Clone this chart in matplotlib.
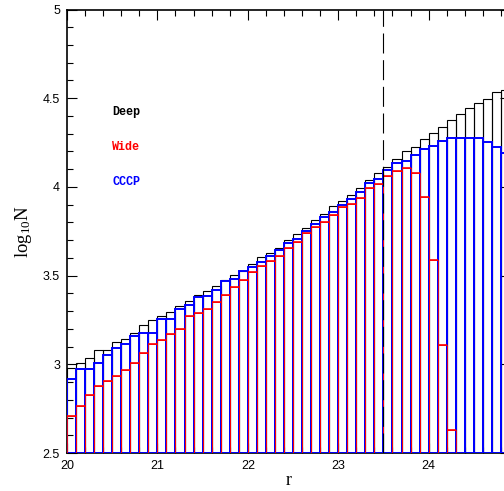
import numpy as np
import matplotlib
matplotlib.use("Agg")
import matplotlib.pyplot as plt
from matplotlib.ticker import MultipleLocator

# bin left edges in r, width 0.1
r_edges = np.round(np.arange(20.0, 24.85, 0.1), 2)

deep = [2.981, 3.006, 3.034, 3.079, 3.082, 3.126, 3.144, 3.178, 3.220, 3.248,
        3.271, 3.297, 3.330, 3.359, 3.389, 3.412, 3.440, 3.475, 3.503, 3.528,
        3.563, 3.606, 3.625, 3.657, 3.701, 3.733, 3.770, 3.813, 3.847, 3.892,
        3.922, 3.955, 3.995, 4.039, 4.080, 4.110, 4.156, 4.202, 4.227, 4.268,
        4.306, 4.340, 4.375, 4.413, 4.443, 4.471, 4.493, 4.533, 4.546]

cccp = [2.915, 2.972, 2.975, 3.006, 3.052, 3.094, 3.114, 3.158, 3.178, 3.178,
        3.257, 3.254, 3.310, 3.334, 3.381, 3.387, 3.420, 3.470, 3.479, 3.526,
        3.550, 3.575, 3.610, 3.644, 3.682, 3.705, 3.753, 3.791, 3.829, 3.860,
        3.898, 3.930, 3.970, 4.020, 4.045, 4.095, 4.137, 4.148, 4.180, 4.214,
        4.231, 4.259, 4.274, 4.278, 4.278, 4.274, 4.255, 4.223, 4.193]

# Wide has no counts (log below 2.5) in the last bins
wide = [2.710, 2.765, 2.827, 2.878, 2.908, 2.934, 2.970, 3.006, 3.065, 3.114,
        3.137, 3.172, 3.201, 3.274, 3.291, 3.313, 3.350, 3.391, 3.437, 3.477,
        3.518, 3.556, 3.582, 3.612, 3.657, 3.691, 3.738, 3.776, 3.804, 3.842,
        3.885, 3.904, 3.940, 3.992, 4.018, 4.063, 4.091, 4.105, 4.080, 3.945,
        3.590, 3.110, 2.630]

BASE = 2.5
R_CUT = 23.5
W = 0.1

fig = plt.figure(figsize=(5.04, 4.91), dpi=100)
ax = fig.add_axes([67/504, 38/491, 443/504, 443.5/491])

def outline_hist(vals, color, lw, z):
    vals = np.array(vals)
    x = r_edges[:len(vals)]
    ax.bar(x, vals - BASE, bottom=BASE, width=W, align='edge',
           fill=False, edgecolor=color, linewidth=lw, zorder=z)
    return x, vals

outline_hist(deep, 'black', 0.8, 2)
outline_hist(cccp, 'blue', 1.4, 3)
xw, vw = outline_hist(wide, 'red', 0.6, 4)
ax.hlines(vw, xw, xw + W, color='red', lw=1.2, zorder=5)
ax.axvline(R_CUT, color='k', lw=0.8, ls=(0, (18, 6)), zorder=6)

ax.set_xlim(20, 24.9)
ax.set_ylim(2.5, 5)
ax.xaxis.set_major_locator(MultipleLocator(1))
ax.xaxis.set_minor_locator(MultipleLocator(0.2))
ax.yaxis.set_major_locator(MultipleLocator(0.5))
ax.yaxis.set_minor_locator(MultipleLocator(0.1))
ax.tick_params(which='both', direction='in', top=True, right=True,
               labelsize=9, width=0.8)
ax.tick_params(which='major', length=7, pad=5)
ax.tick_params(which='minor', length=4)
ax.set_yticks([2.5, 3, 3.5, 4, 4.5, 5])
ax.set_yticklabels(['2.5', '3', '3.5', '4', '4.5', '5'])
for lab in ax.get_xticklabels() + ax.get_yticklabels():
    lab.set_family('Liberation Sans')
for s in ax.spines.values():
    s.set_linewidth(1.2)

ax.set_xlabel('r', family='Liberation Serif', fontsize=13, labelpad=0)
ax.set_ylabel(r'$\mathregular{log_{10}N}$', family='Liberation Serif',
              fontsize=13.5, labelpad=6)

for txt, yy, col in [('Deep', 4.422, 'black'), ('Wide', 4.225, 'red'),
                     ('CCCP', 4.028, 'blue')]:
    ax.text(20.5, yy, txt, color=col, family='Liberation Mono',
            fontweight='bold', fontsize=8.5, va='center', ha='left')

fig.savefig('out.png', dpi=100)
